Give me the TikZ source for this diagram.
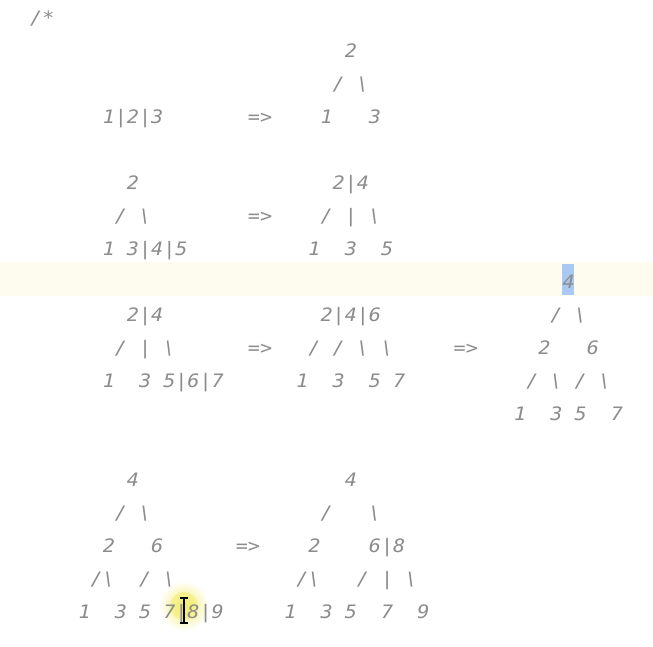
\documentclass[tikz,border=0pt]{standalone}
\usepackage{fontspec}
\usepackage{tikz}
\newfontfamily\codefont[FakeStretch=1.087]{DejaVu Sans Mono}
\definecolor{codegray}{HTML}{8C8C8C}
\definecolor{lineband}{HTML}{FEFBEF}
\definecolor{selblue}{HTML}{A9C9F2}
\definecolor{clickglow}{HTML}{F4EC6A}
\newcommand{\slashch}{/}
\newcommand{\bslashch}{\textbackslash}

\begin{document}
\begin{tikzpicture}[
    x=1pt,
    y=1pt,
    code/.style={font=\codefont\itshape\fontsize{18.5}{22}\selectfont, text=codegray, inner sep=0pt, anchor=base west}
  ]
    \useasboundingbox (0,0) rectangle (653,-646);
    \fill[white] (0,0) rectangle (653,-646);

    % current line and selection
    \fill[lineband] (0,-262) rectangle (653,-296);
    \fill[selblue] (562,-264) rectangle (574,-295);
    % click highlight
    \shade[inner color=clickglow, outer color=white] (184,-606) circle (25);
    \fill[clickglow, opacity=0.45] (184,-606) circle (14);

    % the comment text, row/column/token
    \foreach \r/\c/\t [count=\i] in {
      0/0/\slashch*,
      1/26/2,
      2/25/\slashch, 2/27/\bslashch,
      3/6/1|2|3, 3/18/=>, 3/24/1, 3/28/3,
      5/8/2, 5/25/2|4,
      6/7/\slashch, 6/9/\bslashch, 6/18/=>, 6/24/\slashch, 6/26/|, 6/28/\bslashch,
      7/6/1, 7/8/3|4|5, 7/23/1, 7/26/3, 7/29/5,
      8/44/4,
      9/8/2|4, 9/24/2|4|6, 9/43/\slashch, 9/45/\bslashch,
      10/7/\slashch, 10/9/|, 10/11/\bslashch, 10/18/=>,
      10/23/\slashch, 10/25/\slashch, 10/27/\bslashch, 10/29/\bslashch,
      10/35/=>, 10/42/2, 10/46/6,
      11/6/1, 11/9/3, 11/11/5|6|7, 11/22/1, 11/25/3, 11/28/5, 11/30/7,
      11/41/\slashch, 11/43/\bslashch, 11/45/\slashch, 11/47/\bslashch,
      12/40/1, 12/43/3, 12/45/5, 12/48/7,
      14/8/4, 14/26/4,
      15/7/\slashch, 15/9/\bslashch, 15/24/\slashch, 15/28/\bslashch,
      16/6/2, 16/10/6, 16/17/=>, 16/23/2, 16/28/6|8,
      17/5/\slashch\bslashch, 17/9/\slashch, 17/11/\bslashch,
      17/22/\slashch\bslashch, 17/27/\slashch, 17/29/|, 17/31/\bslashch,
      18/4/1, 18/7/3, 18/9/5, 18/11/7|8|9, 18/21/1, 18/24/3, 18/26/5, 18/29/7, 18/32/9}
      \node[code] (tok\i) at ({36+12.1*\c-6.05},{-24-33*\r}) {\t};

    % text cursor
    \draw[line width=1.4pt] (184,-599) -- (184,-622);
    \draw[line width=1.2pt] (180,-598) -- (188,-598);
    \draw[line width=1.2pt] (180,-623) -- (188,-623);
  \end{tikzpicture}
\end{document}
